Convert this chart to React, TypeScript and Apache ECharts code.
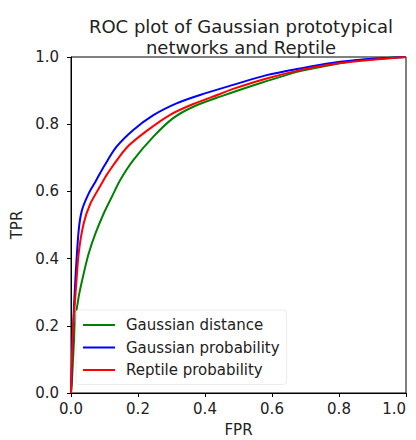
import React, { useEffect, useRef } from "react";
import * as echarts from "echarts";

const titleText = "ROC plot of Gaussian prototypical\nnetworks and Reptile";
const seriesNames = ["Gaussian distance", "Gaussian probability", "Reptile probability"];

const fprGaussDist = [0, 0.003, 0.008, 0.013, 0.023, 0.038, 0.053, 0.073, 0.098, 0.122, 0.147, 0.186, 0.246, 0.305, 0.365, 0.445, 0.564, 0.684, 0.783, 0.883, 1];
const tprGaussDist = [0, 0.04, 0.138, 0.217, 0.287, 0.356, 0.416, 0.475, 0.535, 0.584, 0.634, 0.693, 0.763, 0.818, 0.852, 0.882, 0.922, 0.958, 0.978, 0.993, 1];

const fprGaussProb = [0, 0.002, 0.006, 0.013, 0.023, 0.033, 0.053, 0.073, 0.1, 0.136, 0.186, 0.246, 0.315, 0.385, 0.484, 0.584, 0.684, 0.783, 0.883, 1];
const tprGaussProb = [0, 0.05, 0.19, 0.336, 0.485, 0.545, 0.594, 0.629, 0.677, 0.733, 0.783, 0.827, 0.862, 0.887, 0.917, 0.946, 0.966, 0.983, 0.993, 1];

const fprReptile = [0, 0.001, 0.006, 0.013, 0.023, 0.038, 0.058, 0.092, 0.107, 0.166, 0.226, 0.296, 0.365, 0.445, 0.484, 0.584, 0.684, 0.783, 0.883, 1];
const tprReptile = [0, 0.04, 0.19, 0.287, 0.416, 0.505, 0.564, 0.624, 0.65, 0.73, 0.78, 0.828, 0.86, 0.89, 0.905, 0.936, 0.961, 0.979, 0.99, 1];

const colors = ["#008000", "#0000ff", "#ff0000"];

const zip = (xs: number[], ys: number[]) => xs.map((x, i) => [x, ys[i]]);

export default function App() {
  const ref = useRef<HTMLDivElement>(null);
  useEffect(() => {
    if (!ref.current) return;
    const chart = echarts.init(ref.current, undefined, { renderer: "svg" });
    const font = "DejaVu Sans";
    const axisCommon = {
      type: "value" as const,
      min: 0,
      max: 1,
      interval: 0.2,
      nameLocation: "middle" as const,
      nameTextStyle: { fontFamily: font, fontSize: 15, color: "#222" },
      axisLine: { show: true, lineStyle: { color: "#000", width: 1 } },
      axisTick: { show: true, length: 4, inside: false, lineStyle: { color: "#000" } },
      axisLabel: {
        fontFamily: font,
        fontSize: 15,
        color: "#222",
        formatter: (v: number) => v.toFixed(1),
      },
      splitLine: { show: false },
    };
    const data = [
      zip(fprGaussDist, tprGaussDist),
      zip(fprGaussProb, tprGaussProb),
      zip(fprReptile, tprReptile),
    ];
    chart.setOption({
      animation: false,
      backgroundColor: "#fff",
      title: {
        text: titleText,
        left: 236,
        top: 11,
        textAlign: "center",
        textStyle: { fontFamily: font, fontSize: 18, fontWeight: "normal", color: "#222", lineHeight: 21 },
      },
      grid: {
        left: 71,
        right: 10,
        top: 57,
        bottom: 47,
        outerBoundsMode: "none",
        containLabel: false,
        show: true,
        borderColor: "#000",
        borderWidth: 1,
        backgroundColor: "transparent",
      },
      xAxis: {
        ...axisCommon,
        name: "FPR",
        nameGap: 29,
        axisLabel: { ...axisCommon.axisLabel, margin: 8, alignMaxLabel: "right" },
      },
      yAxis: { ...axisCommon, name: "TPR", nameGap: 38, axisLabel: { ...axisCommon.axisLabel, margin: 12 } },
      legend: {
        orient: "vertical",
        left: 76,
        top: 310,
        icon: "rect",
        itemWidth: 32,
        itemHeight: 2,
        itemGap: 7.5,
        padding: [7.5, 7, 7, 7],
        backgroundColor: "rgba(255,255,255,0.8)",
        borderColor: "#ececec",
        borderWidth: 1,
        borderRadius: 3,
        textStyle: { fontFamily: font, fontSize: 15, color: "#222", padding: [0, 0, 0, 6] },
        data: seriesNames,
      },
      series: seriesNames.map((name, i) => ({
        name,
        type: "line",
        data: data[i],
        showSymbol: false,
        symbol: "none",
        smooth: 0.3,
        lineStyle: { color: colors[i], width: 2 },
        itemStyle: { color: colors[i] },
      })),
    });
    return () => chart.dispose();
  }, []);
  return <div ref={ref} style={{ position: "fixed", left: 0, top: 0, width: 416, height: 440 }} />;
}
